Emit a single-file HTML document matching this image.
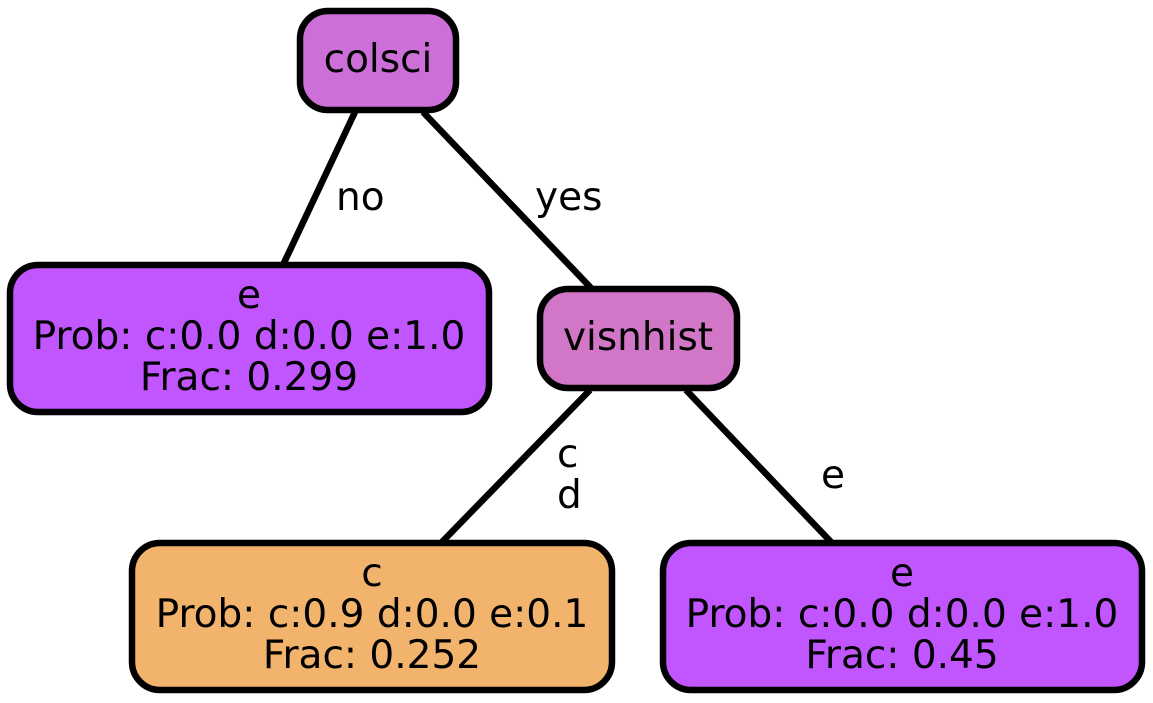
<!DOCTYPE html>
<html><head><style>
html,body{margin:0;padding:0;background:#fff;}
svg{display:block;}
text{font-family:"DejaVu Sans","Liberation Sans",sans-serif;font-size:39px;fill:#000;}
</style></head><body>
<svg width="1153" height="703" viewBox="0 0 1153 703">
<g stroke="#000" stroke-width="6.5" fill="none">
<line x1="355" y1="112" x2="283" y2="265"/>
<line x1="423" y1="112" x2="592" y2="289"/>
<line x1="590" y1="390" x2="441" y2="543"/>
<line x1="686" y1="390" x2="832" y2="543"/>
</g>
<g stroke="#000" stroke-width="6.5">
<rect x="300" y="11" width="156" height="99" rx="28" fill="#cd6fd8"/>
<rect x="10" y="265" width="479" height="147" rx="28" fill="#c156fe"/>
<rect x="540" y="289" width="197" height="99" rx="28" fill="#d276c8"/>
<rect x="132" y="543" width="480" height="147" rx="28" fill="#f2b46c"/>
<rect x="663" y="543" width="479" height="147" rx="28" fill="#c156fe"/>
</g>
<g text-anchor="middle">
<text x="378" y="72">colsci</text>
<text x="249" y="308">e</text>
<text x="249" y="349">Prob: c:0.0 d:0.0 e:1.0</text>
<text x="249" y="390">Frac: 0.299</text>
<text x="638" y="350">visnhist</text>
<text x="372" y="586">c</text>
<text x="372" y="627">Prob: c:0.9 d:0.0 e:0.1</text>
<text x="372" y="668">Frac: 0.252</text>
<text x="902" y="586">e</text>
<text x="902" y="627">Prob: c:0.0 d:0.0 e:1.0</text>
<text x="902" y="668">Frac: 0.45</text>
</g>
<text x="336" y="210">no</text>
<text x="535" y="210">yes</text>
<text x="557" y="467">c</text>
<text x="557" y="508">d</text>
<text x="821" y="488">e</text>
</svg>
</body></html>
